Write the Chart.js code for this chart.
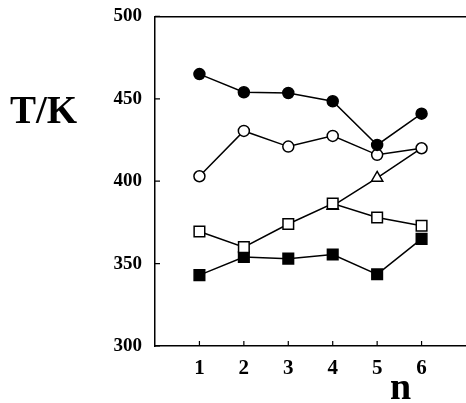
<!DOCTYPE html>
<html lang="en">
<head>
  <meta charset="UTF-8" />
  <title>T/K vs n</title>
  <style>
    body { margin: 0; background: #fff; }
    #wrap { position: relative; width: 466px; height: 403px; overflow: hidden; }
    .lbl { position: absolute; font-family: "Liberation Serif", serif; font-weight: bold; color: #000; line-height: 1; }
    #ylab { left: 10px; top: 90px; font-size: 39px; }
    #xlab { left: 390px; top: 367px; font-size: 38px; }
  </style>
</head>
<body>
  <div id="wrap">
    <canvas id="myChart" width="466" height="403"></canvas>
    <div class="lbl" id="ylab">T/K</div>
    <div class="lbl" id="xlab">n</div>
  </div>

  <script src="https://cdn.jsdelivr.net/npm/chart.js"></script>
  <script>
    const nValues = [1, 2, 3, 4, 5, 6];
    const filledCircle = [465, 454, 453.5, 448.5, 422, 441];
    const openCircle = [403, 430.5, 421, 427.5, 416, 420];
    const openSquare = [369.5, 360, 374, 386.5, 378, 373];
    const filledSquare = [343, 354, 353, 355.5, 343.5, 365];
    const triangleN = [4, 5, 6];
    const triangle = [385, 402, 420];
    const yTicks = [300, 350, 400, 450, 500];

    const markerSize = { circle: 5.5, rect: 7.5, triangle: 6.5 };

    function pts(xs, ys) {
      return xs.map((x, i) => ({ x: x, y: ys[i] }));
    }

    function series(data, style, fill) {
      return {
        data: data,
        borderColor: "#000",
        borderWidth: 1.5,
        pointStyle: style,
        pointRadius: markerSize[style],
        pointBackgroundColor: fill,
        pointBorderColor: "#000",
        pointBorderWidth: 1.5,
        showLine: true,
        fill: false,
      };
    }

    // short inward tick marks on both axes
    const inwardTicks = {
      id: "inwardTicks",
      afterDraw(chart) {
        const c = chart.ctx;
        const x = chart.scales.x;
        const y = chart.scales.y;
        c.save();
        c.strokeStyle = "#000";
        c.lineWidth = 1.2;
        c.beginPath();
        nValues.forEach((v) => {
          const px = x.getPixelForValue(v);
          c.moveTo(px, y.bottom);
          c.lineTo(px, y.bottom - 5);
        });
        yTicks.forEach((v) => {
          const py = y.getPixelForValue(v);
          c.moveTo(x.left, py);
          c.lineTo(x.left + 5, py);
        });
        c.stroke();
        c.restore();
      },
    };

    const triSeries = series(pts(triangleN, triangle), "triangle", "#fff");
    // last triangle sits under the open circle at n=6
    triSeries.pointRadius = [markerSize.triangle, markerSize.triangle, 0];

    const ctx = document.getElementById("myChart").getContext("2d");
    const myChart = new Chart(ctx, {
      type: "scatter",
      data: {
        datasets: [
          series(pts(nValues, filledCircle), "circle", "#000"),
          series(pts(nValues, openCircle), "circle", "#fff"),
          series(pts(nValues, openSquare), "rect", "#fff"),
          series(pts(nValues, filledSquare), "rect", "#000"),
          triSeries,
        ],
      },
      options: {
        responsive: false,
        animation: false,
        layout: { autoPadding: false, padding: 0 },
        plugins: { legend: { display: false }, tooltip: { enabled: false } },
        scales: {
          x: {
            type: "linear",
            min: 0,
            max: 7,
            grid: { display: false },
            border: { display: true, color: "#000", width: 1.5 },
            afterFit: (s) => { s.height = 57; },
            afterBuildTicks: (s) => { s.ticks = nValues.map((v) => ({ value: v })); },
            ticks: {
              padding: 2,
              color: "#000",
              font: { family: "Liberation Serif", weight: "bold", size: 21 },
            },
          },
          x2: {
            type: "linear",
            position: "top",
            min: 0,
            max: 7,
            grid: { display: false },
            border: { display: true, color: "#000", width: 1.5 },
            ticks: { display: false },
            afterFit: (s) => { s.height = 10; },
          },
          y: {
            min: 300,
            max: 500,
            grid: { display: false },
            border: { display: true, color: "#000", width: 1.5 },
            afterFit: (s) => { s.width = 155; },
            afterBuildTicks: (s) => { s.ticks = yTicks.map((v) => ({ value: v })); },
            ticks: {
              padding: 5,
              color: "#000",
              font: { family: "Liberation Serif", weight: "bold", size: 19 },
            },
          },
        },
      },
      plugins: [inwardTicks],
    });
  </script>
</body>
</html>
